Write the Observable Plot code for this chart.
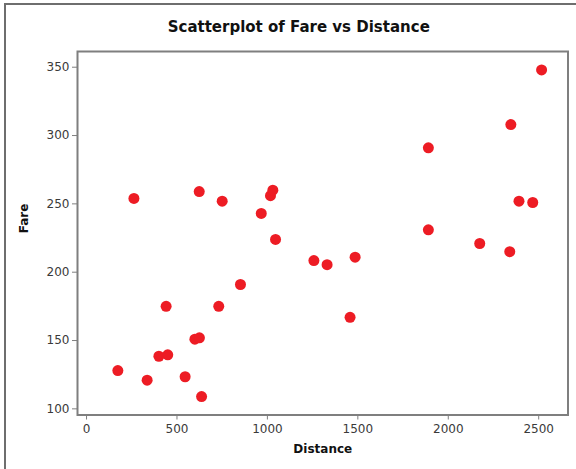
<!DOCTYPE html>
<html>
<head>
<meta charset="utf-8">
<script src="https://cdn.jsdelivr.net/npm/d3@7"></script>
<script src="https://cdn.jsdelivr.net/npm/@observablehq/plot@0.6"></script>
<style>
  html, body { margin: 0; padding: 0; background: #fff; }
  #wrap { position: relative; width: 576px; height: 469px; overflow: hidden; }
  #border { position: absolute; left: 4px; top: 3px; right: -10px; bottom: -10px;
            border-left: 2px solid #6e6e6e; border-top: 2px solid #6e6e6e; pointer-events: none; }
  svg { display: block; }
</style>
</head>
<body>
<div id="wrap"><div id="border"></div></div>
<script>
const title = "Scatterplot of Fare vs Distance";
const xLabel = "Distance";
const yLabel = "Fare";
const xTicks = [0, 500, 1000, 1500, 2000, 2500];
const yTicks = [100, 150, 200, 250, 300, 350];
const distance = [173, 262, 335, 400, 449, 440, 545, 599, 624, 623, 636, 731, 750, 851, 966, 1017, 1030, 1045, 1257, 1330, 1457, 1485, 1890, 1890, 2174, 2340, 2346, 2391, 2467, 2516];
const fare = [128, 254, 121, 138.5, 139.5, 175, 123.5, 151, 152, 259, 109, 175, 252, 191, 243, 256, 260, 224, 208.5, 205.5, 167, 211, 291, 231, 221, 215, 308, 252, 251, 348];

const data = distance.map((d, i) => ({distance: d, fare: fare[i]}));

const chart = Plot.plot({
  width: 576,
  height: 469,
  marginLeft: 77,
  marginRight: 8.5,
  marginTop: 51,
  marginBottom: 54.5,
  style: {fontFamily: "DejaVu Sans", fontSize: "12px", color: "#333", background: "#fff"},
  x: {domain: [-50, 2662]},
  y: {domain: [95.5, 361.5]},
  marks: [
    Plot.axisX({ticks: xTicks, tickSize: 5, tickPadding: 4, tickFormat: d => String(d), label: null, stroke: "#7f7f7f", fill: "#3a3a3a"}),
    Plot.axisY({ticks: yTicks, tickSize: 5, tickPadding: 3, tickFormat: d => String(d), label: null, stroke: "#7f7f7f", fill: "#3a3a3a"}),
    Plot.frame({stroke: "#7f7f7f", strokeWidth: 2}),
    Plot.dot(data, {x: "distance", y: "fare", r: 5.5, fill: "#ED1C24", stroke: null}),
    Plot.text([title], {frameAnchor: "top", dx: -24, dy: -24, lineAnchor: "middle", fontWeight: "bold", fontSize: 15, fill: "#111"}),
    Plot.text([xLabel], {frameAnchor: "bottom", dy: 34.5, lineAnchor: "middle", fontWeight: "bold", fontSize: 12, fill: "#111"}),
    Plot.text([yLabel], {frameAnchor: "left", dx: -53, rotate: -90, lineAnchor: "middle", fontWeight: "bold", fontSize: 12, fill: "#111"})
  ]
});
document.getElementById("wrap").prepend(chart);
</script>
</body>
</html>
